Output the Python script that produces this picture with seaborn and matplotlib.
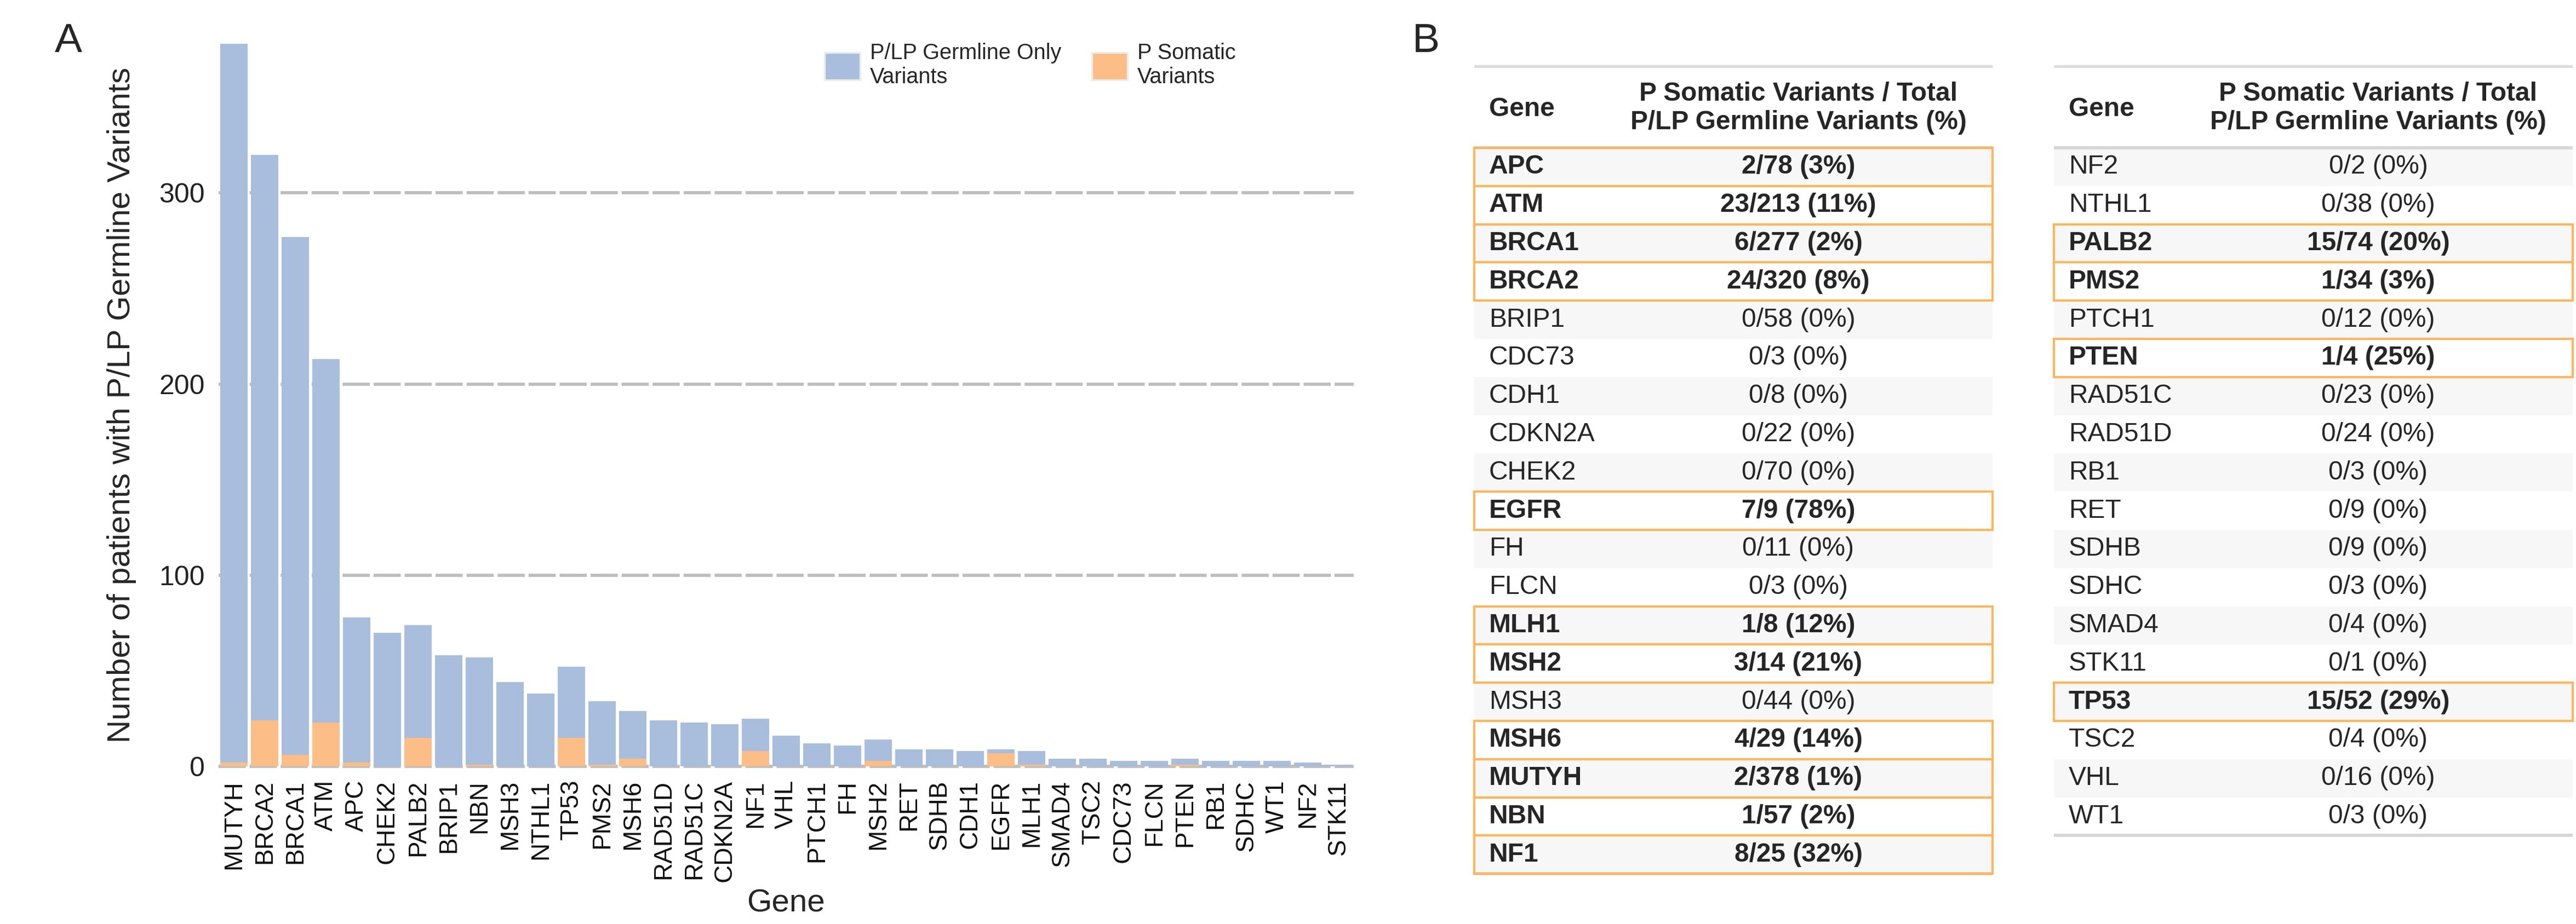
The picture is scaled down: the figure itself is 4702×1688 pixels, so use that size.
import matplotlib
matplotlib.use("Agg")
import matplotlib.pyplot as plt
import matplotlib.patches as mpatches
import pandas as pd
import seaborn as sns

# genes in the order of the bar chart
genes_bar = ["MUTYH", "BRCA2", "BRCA1", "ATM", "APC", "CHEK2", "PALB2", "BRIP1", "NBN",
             "MSH3", "NTHL1", "TP53", "PMS2", "MSH6", "RAD51D", "RAD51C", "CDKN2A", "NF1",
             "VHL", "PTCH1", "FH", "MSH2", "RET", "SDHB", "CDH1", "EGFR", "MLH1", "SMAD4",
             "TSC2", "CDC73", "FLCN", "PTEN", "RB1", "SDHC", "WT1", "NF2", "STK11"]
# total P/LP germline variants per gene
germline_total = [378, 320, 277, 213, 78, 70, 74, 58, 57,
                  44, 38, 52, 34, 29, 24, 23, 22, 25,
                  16, 12, 11, 14, 9, 9, 8, 9, 8, 4,
                  4, 3, 3, 4, 3, 3, 3, 2, 1]
# P somatic variants per gene
somatic_count = [2, 24, 6, 23, 2, 0, 15, 0, 1,
                 0, 0, 15, 1, 4, 0, 0, 0, 8,
                 0, 0, 0, 3, 0, 0, 0, 7, 1, 0,
                 0, 0, 0, 1, 0, 0, 0, 0, 0]

# table of panel B, two columns of genes (alphabetical)
table_left = ["APC", "ATM", "BRCA1", "BRCA2", "BRIP1", "CDC73", "CDH1", "CDKN2A", "CHEK2",
              "EGFR", "FH", "FLCN", "MLH1", "MSH2", "MSH3", "MSH6", "MUTYH", "NBN", "NF1"]
table_right = ["NF2", "NTHL1", "PALB2", "PMS2", "PTCH1", "PTEN", "RAD51C", "RAD51D", "RB1",
               "RET", "SDHB", "SDHC", "SMAD4", "STK11", "TP53", "TSC2", "VHL", "WT1"]

yticks = [0, 100, 200, 300]

BLUE = "#a8bedc"
ORANGE = "#fcbd86"
BOX = "#fdb65c"
W, H = 4702, 1688
TFS = 11.5  # table font size

sns.set_style("white")
plt.rcParams["font.family"] = ["Liberation Sans", "DejaVu Sans"]

fig = plt.figure(figsize=(W / 300, H / 300), dpi=300)

# ---- panel A: bar chart
ax = fig.add_axes([399 / W, 1 - 1400 / H, (2471 - 399) / W, (1400 - 80) / H])
df = pd.DataFrame({"gene": genes_bar, "total": germline_total, "somatic": somatic_count})

sns.barplot(data=df, x="gene", y="total", order=genes_bar, color=BLUE, saturation=1,
            width=0.9, errorbar=None, linewidth=0, ax=ax, zorder=2)
sns.barplot(data=df, x="gene", y="somatic", order=genes_bar, color=ORANGE, saturation=1,
            width=0.9, errorbar=None, linewidth=0, ax=ax, zorder=3)

# dashed horizontal grid (the one at 0 only shows between the bars)
for yv in yticks:
    ax.axhline(yv, color="#bebebe", lw=1.4, dashes=(8.5, 1.2), zorder=0, clip_on=False)

ax.set_xlim(-0.5, len(genes_bar) - 0.5)
ax.set_ylim(0, max(germline_total))
ax.set_yticks(yticks)
ax.set_yticklabels([str(v) for v in yticks], fontsize=12, color="#222222")
ax.tick_params(axis="x", labelrotation=90, labelsize=11, labelcolor="#111111")
ax.tick_params(axis="both", length=4, width=1.1, color="#333333", pad=2)
for s in ax.spines.values():
    s.set_visible(False)
ax.set_xlabel("Gene", fontsize=14, labelpad=3)
ax.set_ylabel("Number of patients with P/LP Germline Variants", fontsize=14, labelpad=10)

handles = [mpatches.Patch(facecolor=BLUE, edgecolor="#ececec", lw=0.8,
                          label="P/LP Germline Only\nVariants"),
           mpatches.Patch(facecolor=ORANGE, edgecolor="#ececec", lw=0.8,
                          label="P Somatic\nVariants")]
fig.legend(handles=handles, ncol=2, frameon=False, fontsize=9.5, loc="upper left",
           bbox_to_anchor=(1505 / W, 1 - 78 / H), borderaxespad=0, borderpad=0,
           handlelength=1.65, handleheight=1.55, handletextpad=0.45, columnspacing=1.4)

fig.text(100 / W, 1 - 95 / H, "A", fontsize=18)
fig.text(2578 / W, 1 - 95 / H, "B", fontsize=18)

# ---- panel B: tables
tax = fig.add_axes([0, 0, 1, 1], zorder=5)
tax.set_xlim(0, W)
tax.set_ylim(H, 0)
tax.axis("off")

TOP, HEAD, ROW = 121, 270, 69.8
lookup = {g: (t, s) for g, t, s in zip(genes_bar, germline_total, somatic_count)}


def draw_table(genes, x0, x1, xsplit):
    tax.plot([x0, x1], [TOP, TOP], color="#dcdcdc", lw=1.2, solid_capstyle="butt")
    tax.text(x0 + 27, (TOP + HEAD) / 2 + 4, "Gene", fontsize=TFS, fontweight="bold",
             ha="left", va="center")
    tax.text((xsplit + x1) / 2, (TOP + HEAD) / 2 + 2,
             "P Somatic Variants / Total\nP/LP Germline Variants (%)", fontsize=TFS,
             fontweight="bold", ha="center", va="center", linespacing=1.2)
    tax.plot([x0, x1], [HEAD, HEAD], color="#d6d6d6", lw=1.4, solid_capstyle="butt")
    bottom = HEAD + ROW * len(genes)
    tax.plot([x0, x1], [bottom, bottom], color="#d6d6d6", lw=1.4, solid_capstyle="butt")
    for i, g in enumerate(genes):
        y = HEAD + i * ROW
        if i % 2 == 0:
            tax.add_patch(mpatches.Rectangle((x0, y), x1 - x0, ROW, facecolor="#f7f7f7",
                                             edgecolor="none", zorder=1))
        total, som = lookup[g]
        hit = som > 0
        weight = "bold" if hit else "normal"
        tax.text(x0 + 27, y + ROW / 2, g, fontsize=TFS, fontweight=weight,
                 ha="left", va="center", zorder=3)
        tax.text((xsplit + x1) / 2, y + ROW / 2, f"{som}/{total} ({round(100 * som / total)}%)",
                 fontsize=TFS, fontweight=weight, ha="center", va="center", zorder=3)
        if hit:
            tax.add_patch(mpatches.Rectangle((x0, y), x1 - x0, ROW, facecolor="none",
                                             edgecolor=BOX, lw=1.0, zorder=4))


draw_table(table_left, 2691, 3637, 2928)
draw_table(table_right, 3749, 4696, 3986)

fig.savefig("out.png", dpi=300)
